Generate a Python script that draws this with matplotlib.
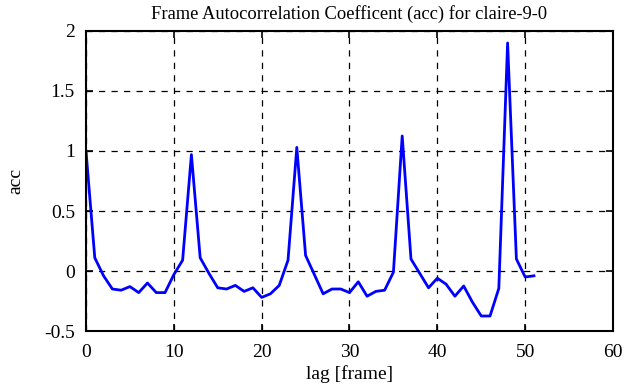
import numpy as np
import matplotlib
matplotlib.use('Agg')
import matplotlib.pyplot as plt

# autocorrelation values, lag 0..51
lag = np.arange(52)
acc = [1.00, 0.11, -0.04, -0.15, -0.16, -0.13, -0.18, -0.10, -0.18, -0.18,
       -0.03, 0.09, 0.97, 0.11, -0.02, -0.14, -0.15, -0.12, -0.17, -0.14,
       -0.22, -0.19, -0.12, 0.09, 1.03, 0.13, -0.03, -0.19, -0.15, -0.15,
       -0.18, -0.09, -0.21, -0.17, -0.16, -0.01, 1.125, 0.10, -0.02, -0.14,
       -0.06, -0.11, -0.21, -0.125, -0.26, -0.375, -0.375, -0.145, 1.90, 0.10,
       -0.05, -0.04]

plt.rcParams['font.family'] = 'Liberation Serif'
plt.rcParams['font.size'] = 14

fig = plt.figure(figsize=(6.25, 3.87), dpi=100)
ax = fig.add_axes([0.1376, 0.1447, 0.9808 - 0.1376, 0.9199 - 0.1447])

ax.plot(lag, acc, color='#0000ff', linewidth=2)

ax.set_xlim(0, 60)
ax.set_ylim(-0.5, 2)
ax.set_xticks(np.arange(0, 61, 10))
ax.set_yticks(np.arange(-0.5, 2.01, 0.5))
ax.set_yticklabels(['-0.5', '0', '0.5', '1', '1.5', '2'])
ax.grid(True, color='black', linestyle=(0, (5, 5)), linewidth=0.9)
ax.tick_params(direction='in', top=True, right=True, length=5, width=1.2)
ax.tick_params(axis='y', pad=8)
ax.tick_params(axis='x', pad=9)
for s in ax.spines.values():
    s.set_linewidth(1.5)

ax.set_xlabel('lag [frame]', labelpad=3)
ax.set_ylabel('acc', labelpad=14)
ax.set_title('Frame Autocorrelation Coefficent (acc) for claire-9-0',
             fontsize=13.3, pad=9)

fig.savefig('out.png', dpi=100)
